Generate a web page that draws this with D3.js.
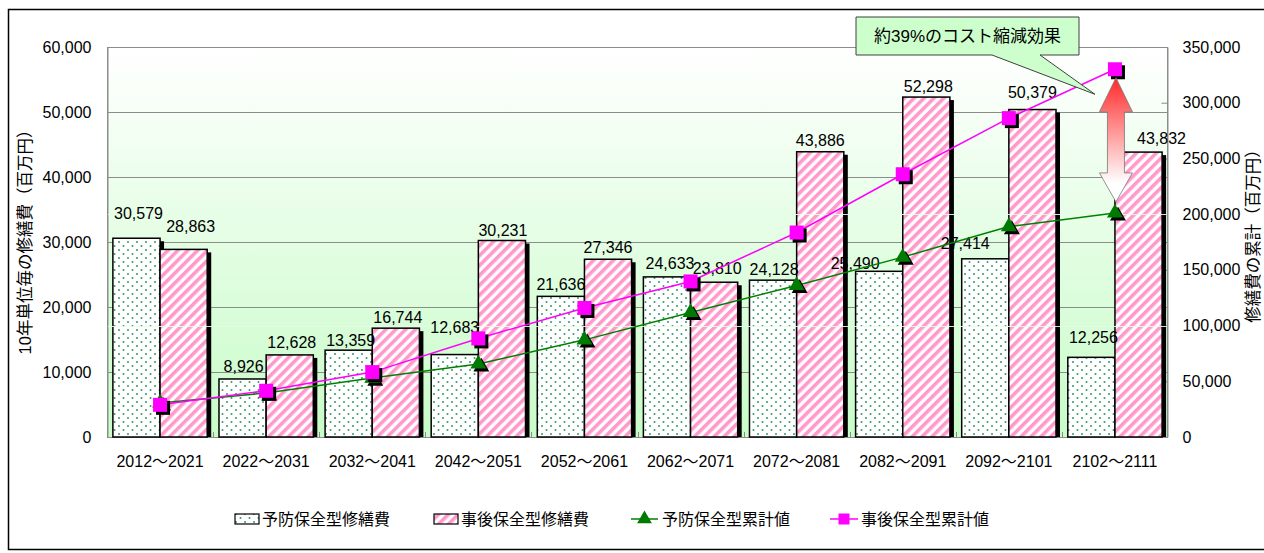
<!DOCTYPE html>
<html><head><meta charset="utf-8">
<script src="https://cdn.jsdelivr.net/npm/d3@7"></script>
<style>
body{margin:0;background:#fff;}
text{font-family:"Liberation Sans","Noto Sans CJK JP",sans-serif;}
</style></head>
<body>
<svg id="chart" width="1264" height="553"></svg>
<script>
const categories = ["2012～2021","2022～2031","2032～2041","2042～2051","2052～2061","2062～2071","2072～2081","2082～2091","2092～2101","2102～2111"];
const preventiveCost = [30579, 8926, 13359, 12683, 21636, 24633, 24128, 25490, 27414, 12256];
const correctiveCost = [28863, 12628, 16744, 30231, 27346, 23810, 43886, 52298, 50379, 43832];
const preventiveCum = [30579, 39505, 52864, 65547, 87183, 111816, 135944, 161434, 188848, 201104];
const correctiveCum = [28863, 41491, 58235, 88466, 115812, 139622, 183508, 235806, 286185, 330017];
const leftTicks = [0, 10000, 20000, 30000, 40000, 50000, 60000];
const rightTicks = [0, 50000, 100000, 150000, 200000, 250000, 300000, 350000];
const seriesNames = ["予防保全型修繕費","事後保全型修繕費","予防保全型累計値","事後保全型累計値"];
const leftTitle = "10年単位毎の修繕費（百万円）";
const rightTitle = "修繕費の累計（百万円）";
const calloutText = "約39%のコスト縮減効果";
// label nudges (layout only): [dx, distance of label centre above bar top]
const prevLabelNudge = [[2,25],[1,13],[2,10],[0,28],[0,12],[3,14],[1,11],[-24,8],[-20,16],[2,20]];
const corrLabelNudge = [[7,23],[2,13],[2,11],[1,10],[0,12],[3,14],[0,12],[2,11],[0,18],[23,14]];

const svg = d3.select("#chart");
const L = 107, R = 1168, T = 47, B = 437;
const fmt = d3.format(",");

const x = d3.scaleBand().domain(categories).range([L, R]).paddingInner(0).paddingOuter(0);
const inner = d3.scaleBand().domain([0,1]).range([0, x.bandwidth()]).paddingInner(0).paddingOuter(0.125);
const yL = d3.scaleLinear().domain([0, 60000]).range([B, T]);
const yR = d3.scaleLinear().domain([0, 350000]).range([B, T]);

const defs = svg.append("defs");
const bg = defs.append("linearGradient").attr("id","bg").attr("x1",0).attr("y1",0).attr("x2",0).attr("y2",1);
bg.append("stop").attr("offset","0%").attr("stop-color","#ffffff");
bg.append("stop").attr("offset","100%").attr("stop-color","#c8fcc8");
const dots = defs.append("pattern").attr("id","dots").attr("patternUnits","userSpaceOnUse").attr("width",9).attr("height",8);
dots.append("rect").attr("width",9).attr("height",8).attr("fill","#fff");
dots.append("circle").attr("cx",2).attr("cy",2).attr("r",1).attr("fill","#33996a");
dots.append("circle").attr("cx",6.5).attr("cy",6).attr("r",1).attr("fill","#33996a");
const stripes = defs.append("pattern").attr("id","stripes").attr("patternUnits","userSpaceOnUse").attr("width",7).attr("height",7).attr("patternTransform","rotate(45)");
stripes.append("rect").attr("width",7).attr("height",7).attr("fill","#fff");
stripes.append("rect").attr("width",3.6).attr("height",7).attr("fill","#ff99cc");
const ag = defs.append("linearGradient").attr("id","arrowGrad").attr("x1",0).attr("y1",0).attr("x2",0).attr("y2",1);
ag.append("stop").attr("offset","0%").attr("stop-color","#ff2a2a");
ag.append("stop").attr("offset","85%").attr("stop-color","#ffffff");
ag.append("stop").attr("offset","100%").attr("stop-color","#ffffff");

// outer frame
svg.append("rect").attr("x",8.5).attr("y",9.5).attr("width",1270).attr("height",540)
  .attr("fill","#fff").attr("stroke","#000").attr("stroke-width",1.5);

// plot background
svg.append("rect").attr("x",L).attr("y",T).attr("width",R-L).attr("height",B-T).attr("fill","url(#bg)");

// gridlines (left axis)
svg.append("g").selectAll("line").data(leftTicks.filter(d=>d>0)).join("line")
  .attr("x1",L).attr("x2",R).attr("y1",d=>Math.round(yL(d))+0.5).attr("y2",d=>Math.round(yL(d))+0.5)
  .attr("stroke","#8c8c8c").attr("stroke-width",1);

// plot border
svg.append("rect").attr("x",L+0.5).attr("y",T+0.5).attr("width",R-L-1).attr("height",B-T)
  .attr("fill","none").attr("stroke","#8c8c8c").attr("stroke-width",1);

// axes
const axL = d3.axisLeft(yL).tickValues(leftTicks).tickFormat(fmt).tickSizeInner(-7).tickSizeOuter(0).tickPadding(16);
const gL = svg.append("g").attr("transform",`translate(${L+0.5},0)`).call(axL);
const axR = d3.axisRight(yR).tickValues(rightTicks).tickFormat(fmt).tickSizeInner(-6).tickSizeOuter(0).tickPadding(15);
const gR = svg.append("g").attr("transform",`translate(${R-0.5},0)`).call(axR);
const axB = d3.axisBottom(x).tickSize(0).tickPadding(18);
const gB = svg.append("g").attr("transform",`translate(0,${B+0.5})`).call(axB);
[gL,gR,gB].forEach(g=>{
  g.select(".domain").attr("stroke","#8c8c8c");
  g.selectAll(".tick line").attr("stroke","#8c8c8c");
  g.selectAll("text").attr("font-size",16).attr("fill","#000")
   .attr("font-family","\"Liberation Sans\",\"Noto Sans CJK JP\",sans-serif");
});
gB.select(".domain").remove();
// category boundary ticks
svg.append("g").selectAll("line").data(categories.slice(1)).join("line")
  .attr("x1",d=>Math.round(x(d))+0.5).attr("x2",d=>Math.round(x(d))+0.5)
  .attr("y1",B-5).attr("y2",B).attr("stroke","#8c8c8c");

// bars
const rows = categories.map((c,i)=>({c,i,p:preventiveCost[i],q:correctiveCost[i]}));
const bw = inner.bandwidth();
const gBars = svg.append("g");
rows.forEach(r=>{
  const x0 = x(r.c)+inner(0), x1 = x(r.c)+inner(1);
  gBars.append("rect").attr("x",x0+4).attr("y",yL(r.p)+3).attr("width",bw).attr("height",B-yL(r.p)-3).attr("fill","#000");
  gBars.append("rect").attr("x",x0).attr("y",yL(r.p)).attr("width",bw).attr("height",B-yL(r.p))
    .attr("fill","url(#dots)").attr("stroke","#000").attr("stroke-width",1.5);
  gBars.append("rect").attr("x",x1+4).attr("y",yL(r.q)+3).attr("width",bw).attr("height",B-yL(r.q)-3).attr("fill","#000");
  gBars.append("rect").attr("x",x1).attr("y",yL(r.q)).attr("width",bw).attr("height",B-yL(r.q))
    .attr("fill","url(#stripes)").attr("stroke","#000").attr("stroke-width",1.5);
});

// faint secondary gridlines over bars
svg.append("g").selectAll("line").data([100000,200000]).join("line")
  .attr("x1",L+1).attr("x2",R-1).attr("y1",d=>Math.round(yR(d))+0.5).attr("y2",d=>Math.round(yR(d))+0.5)
  .attr("stroke","#e4ffe4").attr("stroke-width",1).attr("opacity",0.9);

// value labels
const gLab = svg.append("g").attr("font-size",16).attr("fill","#000").attr("text-anchor","middle");
rows.forEach(r=>{
  const cx0 = x(r.c)+inner(0)+bw/2, cx1 = x(r.c)+inner(1)+bw/2;
  const n0 = prevLabelNudge[r.i], n1 = corrLabelNudge[r.i];
  gLab.append("text").attr("x",cx0+n0[0]).attr("y",yL(r.p)-n0[1]+6).text(fmt(r.p));
  gLab.append("text").attr("x",cx1+n1[0]).attr("y",yL(r.q)-n1[1]+6).text(fmt(r.q));
});

// lines
const cx = c => x(c)+x.bandwidth()/2;
const line = d3.line().x(d=>cx(d.c)).y(d=>yR(d.v));
const greenPts = categories.map((c,i)=>({c,v:preventiveCum[i]}));
const pinkPts = categories.map((c,i)=>({c,v:correctiveCum[i]}));
svg.append("path").datum(greenPts).attr("d",line).attr("fill","none").attr("stroke","#008000").attr("stroke-width",1.5);
svg.append("path").datum(pinkPts).attr("d",line).attr("fill","none").attr("stroke","#ff00ff").attr("stroke-width",1.5);
const tri = d3.symbol().type(d3.symbolTriangle).size(110);
const gM = svg.append("g");
greenPts.forEach(d=>{
  gM.append("path").attr("d",tri()).attr("transform",`translate(${cx(d.c)+3},${yR(d.v)+3})`).attr("fill","#000");
  gM.append("path").attr("d",tri()).attr("transform",`translate(${cx(d.c)},${yR(d.v)})`).attr("fill","#007a00");
});
pinkPts.forEach(d=>{
  gM.append("rect").attr("x",cx(d.c)-7+3).attr("y",yR(d.v)-7+3).attr("width",14).attr("height",14).attr("fill","#000");
  gM.append("rect").attr("x",cx(d.c)-7).attr("y",yR(d.v)-7).attr("width",14).attr("height",14).attr("fill","#ff00ff");
});

// double arrow
const last = categories.length-1;
const ax = cx(categories[last]) + 1;
const yTop = yR(correctiveCum[last]) + 8.5, yBot = yR(preventiveCum[last]) - 11;
const hw = 16.5, sw = 8.5, hh = 34, hh2 = 29;
const arrowPath = `M${ax},${yTop} L${ax+hw},${yTop+hh} L${ax+sw},${yTop+hh} L${ax+sw},${yBot-hh2} L${ax+hw},${yBot-hh2} L${ax},${yBot} L${ax-hw},${yBot-hh2} L${ax-sw},${yBot-hh2} L${ax-sw},${yTop+hh} L${ax-hw},${yTop+hh} Z`;
svg.append("path").attr("d",arrowPath).attr("fill","url(#arrowGrad)").attr("stroke","#777").attr("stroke-width",0.8);

// callout
const tipX = cx(categories[last]) - 20, tipY = yR(correctiveCum[last]) + 25;
const bx0 = 856, bx1 = 1079, by0 = 17, by1 = 55;
svg.append("path").attr("d",`M${bx0},${by0} L${bx1},${by0} L${bx1},${by1} L1040,${by1} L${tipX},${tipY} L992,${by1} L${bx0},${by1} Z`)
  .attr("fill","#ccffcc").attr("stroke","#404040").attr("stroke-width",1);
svg.append("text").attr("x",(bx0+bx1)/2).attr("y",(by0+by1)/2+6).attr("text-anchor","middle")
  .attr("font-size",17).attr("font-family","\"Noto Sans CJK JP\",sans-serif").text(calloutText);

// axis titles
svg.append("text").attr("transform",`translate(31,${(T+B)/2 - 4}) rotate(-90)`).attr("text-anchor","middle")
  .attr("font-size",16.5).attr("font-family","\"Noto Sans CJK JP\",sans-serif").text(leftTitle);
svg.append("text").attr("transform",`translate(1259,${(T+B)/2 - 10}) rotate(-90)`).attr("text-anchor","middle")
  .attr("font-size",16.5).attr("font-family","\"Noto Sans CJK JP\",sans-serif").text(rightTitle);

// legend
const lg = svg.append("g").attr("font-size",16).attr("font-family","\"Noto Sans CJK JP\",sans-serif");
const ly = 519;
lg.append("rect").attr("x",235).attr("y",ly-5).attr("width",24).attr("height",10).attr("fill","url(#dots)").attr("stroke","#000").attr("stroke-width",1.2);
lg.append("text").attr("x",262).attr("y",ly+6).text(seriesNames[0]);
lg.append("rect").attr("x",434).attr("y",ly-5).attr("width",24).attr("height",10).attr("fill","url(#stripes)").attr("stroke","#000").attr("stroke-width",1.2);
lg.append("text").attr("x",461).attr("y",ly+6).text(seriesNames[1]);
lg.append("line").attr("x1",631).attr("x2",658).attr("y1",ly).attr("y2",ly).attr("stroke","#008000").attr("stroke-width",1.5);
lg.append("path").attr("d",d3.symbol().type(d3.symbolTriangle).size(95)()).attr("transform",`translate(644.5,${ly})`).attr("fill","#007a00");
lg.append("text").attr("x",662).attr("y",ly+6).text(seriesNames[2]);
lg.append("line").attr("x1",830).attr("x2",858).attr("y1",ly).attr("y2",ly).attr("stroke","#ff00ff").attr("stroke-width",1.5);
lg.append("rect").attr("x",838.5).attr("y",ly-5.5).attr("width",11).attr("height",11).attr("fill","#ff00ff");
lg.append("text").attr("x",861).attr("y",ly+6).text(seriesNames[3]);
</script>
</body></html>
